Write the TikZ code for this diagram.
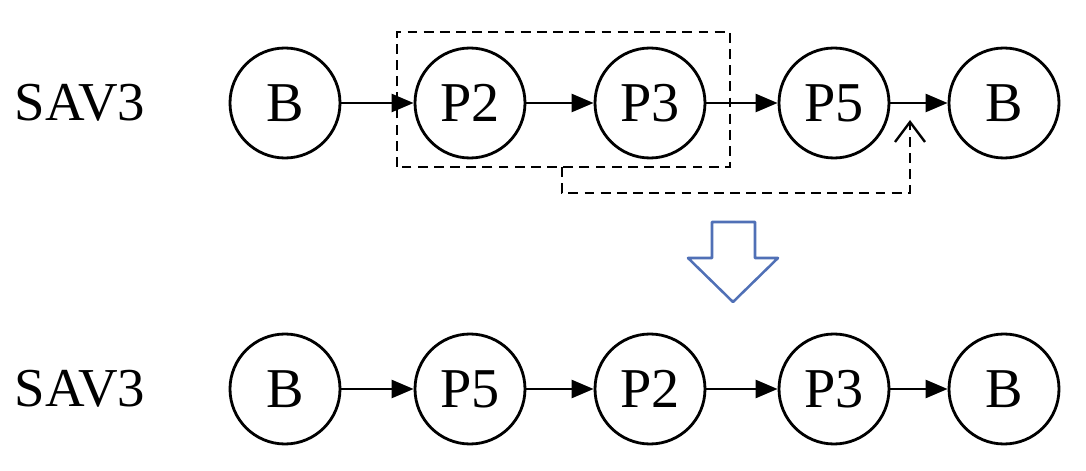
\documentclass[tikz,border=0pt]{standalone}
\usepackage{fontspec}
\setmainfont{Liberation Serif}
\usetikzlibrary{arrows.meta}
\tikzset{
    visit/.style={draw, circle, line width=2pt, minimum size=2.75cm, inner sep=0pt, font=\fontsize{40}{48}\selectfont},
    link/.style={-{Triangle[length=0.55cm, width=0.45cm]}, line width=1.8pt},
    moved/.style={line width=1.7pt, dash pattern=on 7pt off 4.5pt},
    label/.style={font=\fontsize{39}{46}\selectfont}
}
\begin{document}
\begin{tikzpicture}
    \useasboundingbox (0, 0) rectangle (27.15, 11.775);

    % the rows
    \node[label] (topname) at (2.0, 9.2) {SAV3};
    \node[label] (botname) at (2.0, 2.05) {SAV3};
    \foreach \n/\x/\t in {1/7.125/B, 2/11.75/P2, 3/16.25/P3, 4/20.85/P5, 5/25.1/B} {
        \node[visit] (t\n) at (\x, 9.2) {\t};
    };
    \foreach \n/\x/\t in {1/7.125/B, 2/11.75/P5, 3/16.25/P2, 4/20.85/P3, 5/25.1/B} {
        \node[visit] (b\n) at (\x, 2.05) {\t};
    };

    % arrows
    \foreach \i/\j in {1/2, 2/3, 3/4, 4/5} {
        \draw[link] (t\i) -- (t\j);
        \draw[link] (b\i) -- (b\j);
    };

    % the moved block
    \draw[moved] (9.925, 7.6) rectangle (18.25, 10.975);
    \coordinate (from) at (14.05, 7.6);
    \coordinate (to) at (22.75, 8.775);
    \draw[moved, -{Straight Barb[length=0.5cm, width=0.75cm, line width=1.7pt]}]
        (from) -- (14.05, 6.95) -- (22.75, 6.95) -- (to);

    % the big arrow
    \draw[line width=1.8pt, draw={rgb,255:red,80;green,112;blue,182}, line join=round]
        (17.8, 6.225) -- (18.875, 6.225) -- (18.875, 5.325) -- (19.45, 5.325)
        -- (18.325, 4.225) -- (17.2, 5.325) -- (17.8, 5.325) -- cycle;
\end{tikzpicture}
\end{document}
